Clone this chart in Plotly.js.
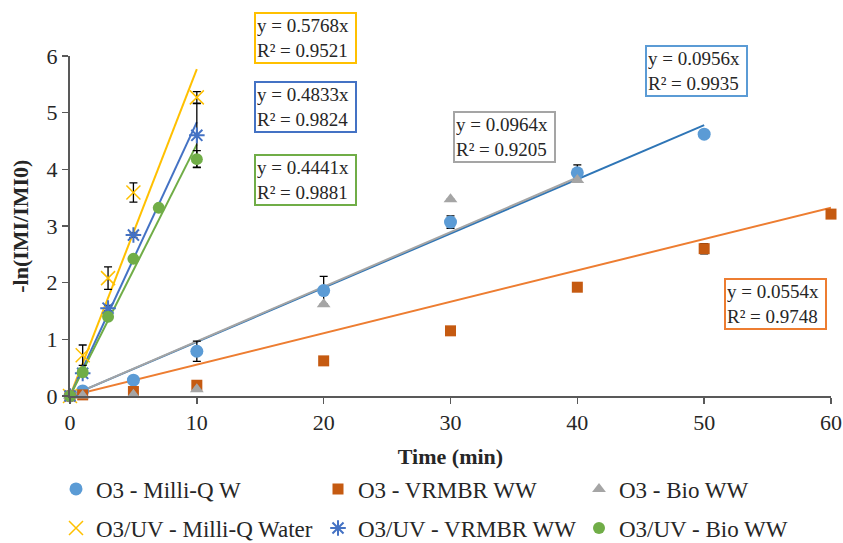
<!DOCTYPE html>
<html>
<head>
<meta charset="utf-8">
<script src="https://cdn.plot.ly/plotly-3.0.1.min.js"></script>
<style>html,body{margin:0;padding:0;background:#fff;}#chart{width:843px;height:543px;}</style>
</head>
<body>
<div id="chart"></div>
<script>
// ---- data ----
const seriesNames = ["O3 - Milli-Q W", "O3 - VRMBR WW", "O3 - Bio WW",
                     "O3/UV - Milli-Q Water", "O3/UV - VRMBR WW", "O3/UV - Bio WW"];

const t_O3_MQ   = [0, 1, 5, 10, 20, 30, 40, 50];
const y_O3_MQ   = [0, 0.09, 0.28, 0.79, 1.86, 3.07, 3.94, 4.62];
const e_O3_MQ   = [0, 0.02, 0.04, 0.18, 0.25, 0.11, 0.14, 0.05];

const t_O3_VR   = [0, 1, 5, 10, 20, 30, 40, 50, 60];
const y_O3_VR   = [0, 0.02, 0.08, 0.19, 0.62, 1.15, 1.92, 2.60, 3.21];
const e_O3_VR   = [0, 0.01, 0.03, 0.05, 0.07, 0.05, 0.05, 0.09, 0.05];

const t_O3_BIO  = [0, 1, 5, 10, 20, 30, 40];
const y_O3_BIO  = [0, 0.01, 0.02, 0.12, 1.62, 3.47, 3.81];
const e_O3_BIO  = [0, 0, 0, 0, 0, 0, 0];

const t_UV_MQ   = [0, 1, 3, 5, 10];
const y_UV_MQ   = [0, 0.72, 2.08, 3.59, 5.27];
const e_UV_MQ   = [0, 0.18, 0.20, 0.17, 0.10];

const t_UV_VR   = [0, 1, 3, 5, 10];
const y_UV_VR   = [0, 0.40, 1.55, 2.84, 4.60];
const e_UV_VR   = [0, 0.05, 0.05, 0.04, 0.56];

const t_UV_BIO  = [0, 1, 3, 5, 7, 10];
const y_UV_BIO  = [0, 0.42, 1.40, 2.42, 3.32, 4.18];
const e_UV_BIO  = [0, 0.03, 0.05, 0.03, 0.03, 0.15];

// trendline fits (y = k x) and R²
const slopes = [0.0956, 0.0554, 0.0964, 0.5768, 0.4833, 0.4441];
const r2     = [0.9935, 0.9748, 0.9205, 0.9521, 0.9824, 0.9881];

const xTicks = [0, 10, 20, 30, 40, 50, 60];
const yTicks = [0, 1, 2, 3, 4, 5, 6];
const xTitle = "Time (min)";
const yTitle = "-ln(IMI/IMI0)";

// ---- styling ----
const FONT = "Liberation Serif, Times New Roman, serif";
const markerColors = ["#5B9BD5", "#C55A11", "#A5A5A5", "#FFC000", "#4472C4", "#70AD47"];
const lineColors   = ["#2E75B6", "#ED7D31", "#A5A5A5", "#FFC000", "#4472C4", "#70AD47"];
const boxColors    = ["#5B9BD5", "#ED7D31", "#A5A5A5", "#FFC000", "#4472C4", "#70AD47"];

const tArr = [t_O3_MQ, t_O3_VR, t_O3_BIO, t_UV_MQ, t_UV_VR, t_UV_BIO];
const yArr = [y_O3_MQ, y_O3_VR, y_O3_BIO, y_UV_MQ, y_UV_VR, y_UV_BIO];
const eArr = [e_O3_MQ, e_O3_VR, e_O3_BIO, e_UV_MQ, e_UV_VR, e_UV_BIO];

const markers = [
  {symbol: "circle", size: 13},
  {symbol: "square", size: 11},
  {symbol: "triangle-up", size: 12},
  {symbol: "x-thin-open", size: 14, line: {width: 1.5}},
  {symbol: "asterisk-open", size: 13, line: {width: 2}},
  {symbol: "circle", size: 12}
];

const legendIds = ["legend", "legend2", "legend3", "legend4", "legend5", "legend6"];

const traces = [];
// trendlines first (under markers)
for (let i = 0; i < 6; i++) {
  const xmax = Math.max(...tArr[i]);
  traces.push({
    x: [0, xmax], y: [0, slopes[i] * xmax],
    mode: "lines", line: {color: lineColors[i], width: 2},
    showlegend: false, hoverinfo: "skip", cliponaxis: false
  });
}
for (let i = 0; i < 6; i++) {
  const m = Object.assign({color: markerColors[i]}, markers[i]);
  if (m.line) m.line = Object.assign({color: markerColors[i]}, m.line);
  traces.push({
    x: tArr[i], y: yArr[i], name: seriesNames[i],
    mode: "markers", marker: m, cliponaxis: false,
    error_y: {type: "data", array: eArr[i], visible: true, color: "#000", thickness: 1.3, width: 4},
    legend: legendIds[i]
  });
}

// annotation box centres (x in data units, y in paper fraction)
const boxX = [49.4, 55.66, 34.22, 18.57, 18.57, 18.57];
const boxY = [0.957, 0.2706, 0.7603, 1.054, 0.85, 0.6353];
const annotations = slopes.map((k, i) => ({
  x: boxX[i], y: boxY[i], xref: "x", yref: "paper",
  xanchor: "center", yanchor: "middle",
  text: "y = " + k.toFixed(4) + "x<br>R² = " + r2[i].toFixed(4),
  showarrow: false, align: "left", width: 97,
  font: {family: FONT, size: 19, color: "#262626"},
  bgcolor: "#fff", bordercolor: boxColors[i], borderwidth: 2, borderpad: 1
}));
// y-axis title, rotated, left of the tick labels
annotations.push({
  x: -0.066, y: 0.5, xref: "paper", yref: "paper", xanchor: "center", yanchor: "middle",
  text: "<b>" + yTitle + "</b>", textangle: -90, showarrow: false,
  font: {family: FONT, size: 22, color: "#262626"}
});

// legend grid: 3 columns x 2 rows (container fractions)
const legendX = [56, 318, 579, 56, 318, 579].map(v => v / 843);
const legendY = [489, 489, 489, 528, 528, 528].map(v => 1 - v / 543);

const layout = {
  width: 843, height: 543,
  margin: {l: 70, r: 12, t: 56, b: 147, autoexpand: false},
  paper_bgcolor: "#fff", plot_bgcolor: "#fff",
  font: {family: FONT, size: 22, color: "#262626"},
  showlegend: true,
  xaxis: {
    range: [0, 60], tickvals: xTicks, ticktext: xTicks.map(String), automargin: true,
    showgrid: false, zeroline: false, showline: true, linecolor: "#595959", linewidth: 2,
    ticks: "outside", ticklen: 6, tickwidth: 1.5, tickcolor: "#595959",
    tickfont: {family: FONT, size: 22, color: "#262626"},
    title: {text: "<b>" + xTitle + "</b>", font: {family: FONT, size: 22, color: "#262626"}, standoff: 14}
  },
  yaxis: {
    range: [0, 6], tickvals: yTicks, ticktext: yTicks.map(String), automargin: false,
    showgrid: false, zeroline: false, showline: true, linecolor: "#595959", linewidth: 2,
    ticks: "outside", ticklen: 6, tickwidth: 1.5, tickcolor: "#595959",
    tickfont: {family: FONT, size: 22, color: "#262626"}
  },
  annotations: annotations
};
legendIds.forEach((id, i) => {
  layout[id] = {
    xref: "container", yref: "container",
    x: legendX[i], y: legendY[i], xanchor: "left", yanchor: "middle",
    font: {family: FONT, size: 23, color: "#262626"},
    bgcolor: "rgba(0,0,0,0)", borderwidth: 0
  };
});

Plotly.newPlot("chart", traces, layout, {staticPlot: true, displayModeBar: false});
</script>
</body>
</html>
